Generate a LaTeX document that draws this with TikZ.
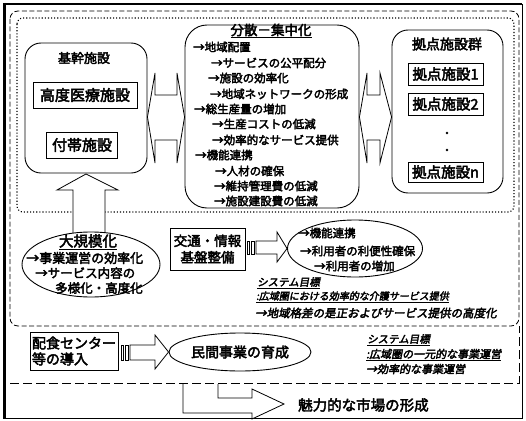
\documentclass[tikz,border=0pt]{standalone}
\usepackage{fontspec}
\usetikzlibrary{shapes.geometric}
\newfontfamily\jpbase[AutoFakeBold=3]{Noto Sans CJK JP}
\newfontfamily\jpibase[AutoFakeBold=3,FakeSlant=0.18]{Noto Sans CJK JP}
\newcommand{\jp}{\jpbase\bfseries}
\newcommand{\jpi}{\jpibase\bfseries}
\newcommand{\jfs}[1]{\fontsize{#1}{#1}\selectfont}
\tikzset{
  ln/.style={line width=0.9pt},
  sqbox/.style={draw, line width=0.9pt, inner sep=0pt, fill=white},
  rbox/.style={draw, line width=0.9pt, inner sep=0pt, fill=white},
  ell/.style={draw, ellipse, line width=0.9pt, inner sep=0pt, fill=white},
  blockarrow/.style={draw, fill=white, line width=0.8pt, line join=miter},
  txt/.style={inner sep=0pt, anchor=west, font={\jp\jfs{11.5}}},
  ctxt/.style={inner sep=0pt, font={\jp\jfs{#1}}},
  itxt/.style={inner sep=0pt, anchor=west, font={\jpi\jfs{#1}}},
}
\begin{document}
\begin{tikzpicture}[x=1pt,y=-1pt]
\useasboundingbox (0,0) rectangle (526,420);
\fill[white] (0,0) rectangle (526,420);
% frames
\draw[ln] (4,4) rectangle (522,418);
\draw[line width=3pt] (4,3) -- (4,419);
\draw[line width=2pt] (4,4) -- (522,4);
\draw[line width=0.8pt, dash pattern=on 5pt off 2.5pt, rounded corners=8pt] (10,11) rectangle (519,326);
\draw[line width=0.8pt, dash pattern=on 9pt off 4pt] (10,383) -- (519,383) -- (519,326);
\draw[line width=1.1pt, dotted, rounded corners=6pt] (17,18) rectangle (514,212);

% left box
\node[rbox, rounded corners=16pt, minimum width=122, minimum height=130] (kikan) at (86,108) {};
\node[ctxt=13] (kikant) at (84,58) {基幹施設};
\node[sqbox, minimum width=104, minimum height=26] (kodo) at (85,95) {\jp\jfs{15}高度医療施設};
\node[sqbox, minimum width=71, minimum height=26] (futai) at (82,145) {\jp\jfs{15}付帯施設};

% middle box
\node[rbox, rounded corners=22pt, minimum width=174, minimum height=183] (bunsan) at (272,116.5) {};
\node[ctxt=13.5] (bunsant) at (271,31) {\underline{分散－集中化}};
\node[txt] (m1) at (193,47) {→地域配置};
\node[txt] (m2) at (211,63) {→サービスの公平配分};
\node[txt] (m3) at (208,78) {→施設の効率化};
\node[txt] (m4) at (210,94) {→地域ネットワークの形成};
\node[txt] (m5) at (194,109) {→総生産量の増加};
\node[txt] (m6) at (212,124) {→生産コストの低減};
\node[txt] (m7) at (212,140) {→効率的なサービス提供};
\node[txt] (m8) at (195,155) {→機能連携};
\node[txt] (m9) at (215,171) {→人材の確保};
\node[txt] (m10) at (214,186) {→維持管理費の低減};
\node[txt] (m11) at (214,201) {→施設建設費の低減};

% right box
\node[rbox, rounded corners=16pt, minimum width=111, minimum height=163] (kyoten) at (447.5,111.5) {};
\node[ctxt=14] (kyotent) at (447,44) {拠点施設群};
\node[sqbox, minimum width=75, minimum height=22] (k1) at (445.5,74) {\jp\jfs{14.5}拠点施設1};
\node[sqbox, minimum width=75, minimum height=22] (k2) at (445.5,104) {\jp\jfs{14.5}拠点施設2};
\node[sqbox, minimum width=75, minimum height=20] (kn) at (445.5,172) {\jp\jfs{14.5}拠点施設n};
\fill (447,133) circle (1.3);
\fill (447,150) circle (1.3);

% double arrows
\draw[blockarrow] (kikan.east |- 0,117) -- (155,73) -- (155,95) -- (177,95) -- (177,73)
  -- (bunsan.west |- 0,117) -- (177,163) -- (177,140) -- (155,140) -- (155,163) -- cycle;
\draw[blockarrow] (bunsan.east |- 0,117) -- (367,73) -- (367,95) -- (380,95) -- (380,73)
  -- (kyoten.west |- 0,117) -- (380,163) -- (380,140) -- (367,140) -- (367,163) -- cycle;

% up arrow
\draw[blockarrow] (kikan.south |- 0,174) -- (118,190) -- (105,190) -- (105,236) -- (73,236) -- (73,190) -- (57,190) -- cycle;

% ellipse daikibo
\node[ell, minimum width=138, minimum height=65] (daikibo) at (91,264.5) {};
\node[ctxt=14.5] (daikibot) at (88,242) {\underline{大規模化}};
\node[txt, font={\jp\jfs{13}}] (d1) at (26,258) {→事業運営の効率化};
\node[txt, font={\jp\jfs{12.5}}] (d2) at (35,273) {→サービス内容の};
\node[txt, font={\jp\jfs{12.5}}] (d3) at (55,288) {多様化・高度化};

% transport box and arrow
\node[sqbox, minimum width=75, minimum height=42, align=center] (kotsu) at (207.5,249) {\jp\jfs{13.5}交通・情報\\[3pt]\jp\jfs{13.5}基盤整備};
\node[ell, minimum width=135, minimum height=57] (kino) at (355,248.5) {};
\draw[blockarrow] (247,241) rectangle (249,254);
\draw[blockarrow] (251,241) rectangle (254,254);
\draw[blockarrow] (256,241) -- (277,241) -- (277,232) -- (kino.west) -- (277,262) -- (277,254) -- (256,254) -- cycle;
\node[txt] (e1) at (298,233) {→機能連携};
\node[txt] (e2) at (300,251) {→利用者の利便性確保};
\node[txt] (e3) at (314,266) {→利用者の増加};

% system goal 1
\node[itxt=10.5] (sg1) at (257,283) {\underline{システム目標}};
\node[itxt=10] (sg1a) at (256,297) {\underline{:広域圏における効率的な介護サービス提供}};
\node[itxt=11.5] (sg1b) at (255,313) {→地域格差の是正およびサービス提供の高度化};

% lower band
\node[sqbox, minimum width=88, minimum height=38, align=left] (haishoku) at (74,351) {\jp\jfs{14}配食センター\\[2pt]\jp\jfs{14}等の導入};
\node[ell, minimum width=142, minimum height=38] (minkan) at (240,352) {\jp\jfs{14}民間事業の育成};
\draw[blockarrow] (121,345) rectangle (123,360);
\draw[blockarrow] (125,345) rectangle (128,360);
\draw[blockarrow] (130,345) -- (155,345) -- (155,335) -- (minkan.west) -- (155,369) -- (155,360) -- (130,360) -- cycle;
\node[itxt=10.5] (sg2) at (367,340) {\underline{システム目標}};
\node[itxt=11] (sg2a) at (366,355) {\underline{:広域圏の一元的な事業運営}};
\node[itxt=11] (sg2b) at (366,369) {→効率的な事業運営};

% bottom bent arrow
\node[inner sep=0pt, anchor=west, font={\jp\jfs{14.5}}] (miryoku) at (298,405) {魅力的な市場の形成};
\coordinate (bt) at (284,404);
\draw[blockarrow] (183,384) -- (183,413) -- (252,413) -- (252,419) -- (bt) -- (252,389) -- (252,398) -- (218,398) -- (218,384);
\end{tikzpicture}
\end{document}
